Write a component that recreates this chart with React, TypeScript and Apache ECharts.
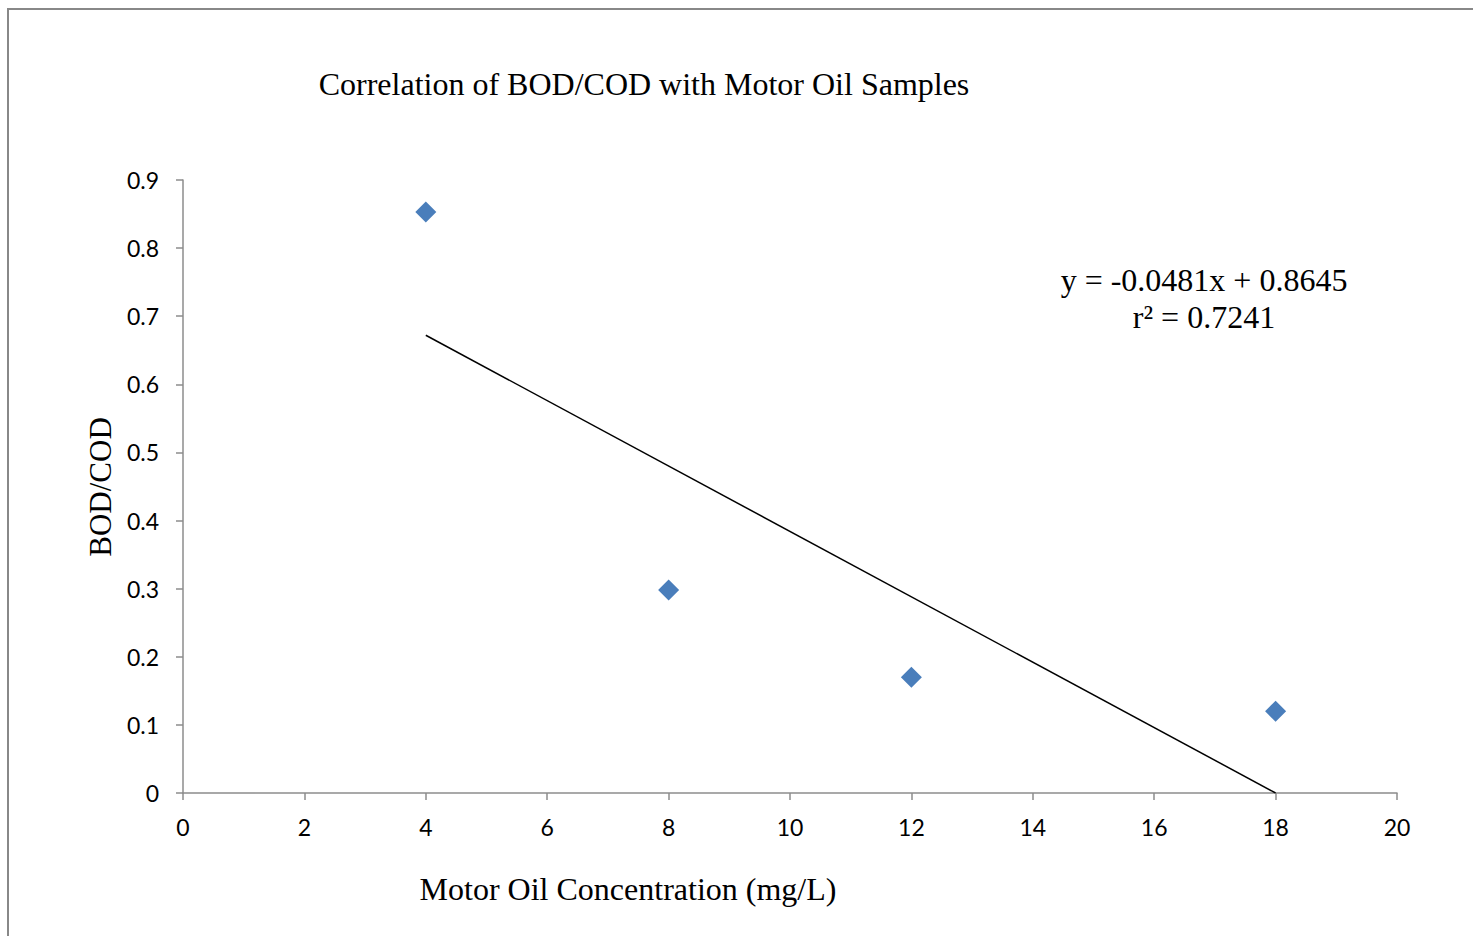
import React, { useEffect, useRef } from "react";
import * as echarts from "echarts";

const title = "Correlation of BOD/COD with Motor Oil Samples";
const xAxisName = "Motor Oil Concentration (mg/L)";
const yAxisName = "BOD/COD";
const samples: [number, number][] = [
  [4, 0.853],
  [8, 0.298],
  [12, 0.17],
  [18, 0.12],
];
const trendX = [4, 18];
const slope = -0.0481;
const intercept = 0.8645;
const equationLines = ["y = -0.0481x + 0.8645", "r² = 0.7241"];

export default function App() {
  const ref = useRef<HTMLDivElement>(null);
  useEffect(() => {
    if (!ref.current) return;
    const chart = echarts.init(ref.current, null, { renderer: "svg" });
    const trend = trendX.map((x) => [x, Math.max(0, slope * x + intercept)]);
    const serif = "'Liberation Serif', 'Times New Roman', serif";
    const sans = "Lato, 'Open Sans', sans-serif";
    chart.setOption({
      animation: false,
      backgroundColor: "#ffffff",
      grid: { left: 183, top: 180, width: 1214, height: 613 },
      xAxis: {
        type: "value",
        min: 0,
        max: 20,
        interval: 2,
        splitLine: { show: false },
        axisLine: { onZero: false, lineStyle: { color: "#8c8c8c", width: 1.5 } },
        axisTick: { show: true, length: 7, lineStyle: { color: "#8c8c8c", width: 1.5 } },
        axisLabel: { color: "#000", fontFamily: sans, fontSize: 23, margin: 22 },
      },
      yAxis: {
        type: "value",
        min: 0,
        max: 0.9,
        interval: 0.1,
        splitLine: { show: false },
        axisLine: { show: true, lineStyle: { color: "#8c8c8c", width: 1.5 } },
        axisTick: { show: true, length: 7, lineStyle: { color: "#8c8c8c", width: 1.5 } },
        axisLabel: {
          color: "#000",
          fontFamily: sans,
          fontSize: 23,
          margin: 24,
          formatter: (v: number) => String(Math.round(v * 10) / 10),
        },
      },
      series: [
        {
          type: "scatter",
          data: samples,
          symbol: "diamond",
          symbolSize: [21, 21],
          itemStyle: { color: "#4A7EBB", opacity: 1 },
        },
        {
          type: "line",
          data: trend,
          symbol: "none",
          lineStyle: { color: "#000", width: 1.5 },
        },
      ],
      graphic: [
        {
          type: "rect",
          shape: { x: 8, y: 9, width: 1480, height: 950 },
          style: { fill: "none", stroke: "#888", lineWidth: 2 },
          silent: true,
        },
        {
          type: "text",
          x: 644,
          y: 84,
          style: {
            text: title,
            font: `32px ${serif}`,
            fill: "#000",
            align: "center",
            verticalAlign: "middle",
          },
        },
        {
          type: "text",
          x: 628,
          y: 889,
          style: {
            text: xAxisName,
            font: `32px ${serif}`,
            fill: "#000",
            align: "center",
            verticalAlign: "middle",
          },
        },
        {
          type: "text",
          x: 100,
          y: 487,
          rotation: Math.PI / 2,
          style: {
            text: yAxisName,
            font: `31px ${serif}`,
            fill: "#000",
            align: "center",
            verticalAlign: "middle",
          },
        },
        {
          type: "text",
          x: 1204,
          y: 280,
          style: {
            text: equationLines[0],
            font: `32px ${serif}`,
            fill: "#000",
            align: "center",
            verticalAlign: "middle",
          },
        },
        {
          type: "text",
          x: 1204,
          y: 317,
          style: {
            text: equationLines[1],
            font: `32px ${serif}`,
            fill: "#000",
            align: "center",
            verticalAlign: "middle",
          },
        },
      ],
    });
    return () => chart.dispose();
  }, []);
  return (
    <div
      ref={ref}
      style={{ position: "absolute", left: 0, top: 0, width: 1473, height: 936 }}
    />
  );
}
